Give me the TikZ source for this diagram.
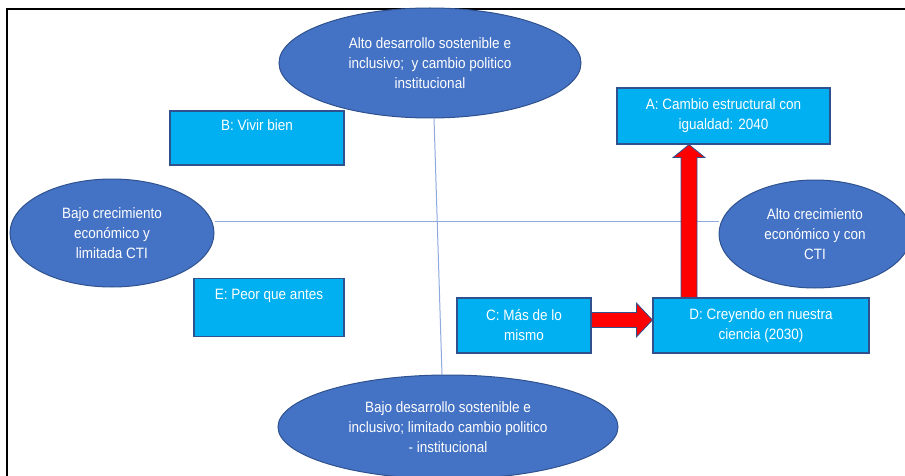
\documentclass[tikz,border=0pt]{standalone}
\usepackage{fontspec}
\setmainfont{Liberation Sans}[FakeStretch=0.9]
\usetikzlibrary{shapes.geometric,calc}
\definecolor{ellfill}{RGB}{68,114,196}
\definecolor{edge}{RGB}{47,82,143}
\definecolor{boxfill}{RGB}{0,176,240}
\definecolor{axis}{RGB}{143,170,220}
\begin{document}
\begin{tikzpicture}[x=1pt,y=-1pt,
  every node/.style={font=\fontsize{15}{20}\selectfont, text=white, align=center, inner sep=0pt},
  oval/.style={ellipse, fill=ellfill, draw=edge, line width=1pt},
  scbox/.style={rectangle, fill=boxfill, draw=edge, line width=1.2pt},
  axisline/.style={draw=axis, line width=1pt},
  redarrow/.style={fill=red, draw=edge, line width=0.8pt, line join=miter}]
\useasboundingbox (0,0) rectangle (905,476);
% frame
\draw[black, line width=1.2pt] (7,476) -- (7,9) -- (905,9);
% ellipses
\node[oval, minimum width=302pt, minimum height=110pt] (top) at (430,63)
  {Alto desarrollo sostenible e\\ inclusivo;~ y cambio politico\\ institucional};
\node[oval, minimum width=204pt, minimum height=108pt] (left) at (112,233)
  {Bajo crecimiento\\ económico y\\ limitada CTI};
\node[oval, minimum width=192pt, minimum height=108pt] (right) at (815,234)
  {Alto crecimiento\\ económico y con\\ CTI};
\node[oval, minimum width=340pt, minimum height=104pt] (bottom) at (448,427)
  {Bajo desarrollo sostenible e\\ inclusivo; limitado cambio politico\\ - institucional};
% axes
\begin{scope}[on background layer/.try]
\end{scope}
\coordinate (vtop) at (434,118);
\coordinate (vbot) at (442,375);
\draw[axisline] (vtop) -- (vbot);
\draw[axisline] (left.east |- 0,221) -- (right.west |- 0,221);
% boxes
\node[scbox, minimum width=174pt, minimum height=54pt] (B) at (257,138) {B: Vivir bien\\ \strut};
\node[scbox, minimum width=150pt, minimum height=58pt] (E) at (269,307.5) {E: Peor que antes\\ \strut};
\node[scbox, minimum width=213pt, minimum height=56pt] (A) at (723.5,116) {A: Cambio estructural con\\ igualdad: 2040};
\node[scbox, minimum width=134pt, minimum height=55pt] (C) at (524,325.5) {C: Más de lo\\ mismo};
\node[scbox, minimum width=216pt, minimum height=55pt] (D) at (761,325.5) {D: Creyendo en nuestra\\ ciencia (2030)};
% arrow C -> D
\draw[redarrow] ($(C.east)+(0,-13)$) -- ($(D.west)+(-16,-13)$) -- ($(D.west)+(-16,-22.5)$)
  -- ($(D.west)+(0,-5.5)$) -- ($(D.west)+(-16,11.5)$) -- ($(D.west)+(-16,2)$)
  -- ($(C.east)+(0,2)$) -- cycle;
% arrow D -> A
\path (A.south) ++(-34.5,0) coordinate (vtip);
\path (vtip |- D.north) coordinate (vbase);
\draw[redarrow] ($(vbase)+(-8,0)$) -- ($(vtip)+(-8,13)$) -- ($(vtip)+(-16,13)$)
  -- (vtip) -- ($(vtip)+(16,13)$) -- ($(vtip)+(8,13)$) -- ($(vbase)+(8,0)$) -- cycle;
\end{tikzpicture}
\end{document}
